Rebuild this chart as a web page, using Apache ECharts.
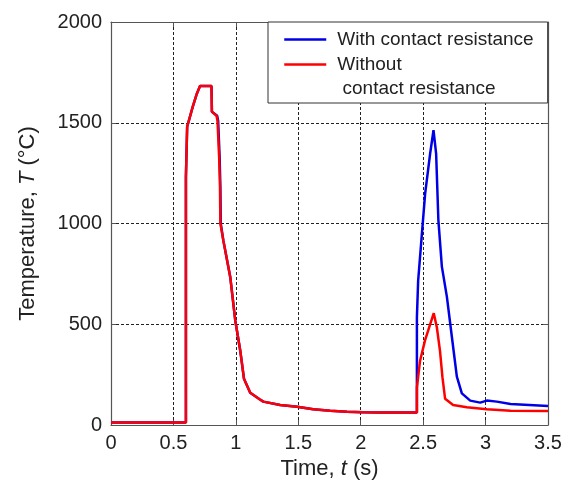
<!DOCTYPE html>
<html>
<head>
<meta charset="utf-8">
<script src="https://cdn.jsdelivr.net/npm/echarts@6/dist/echarts.min.js"></script>
<style>
html,body{margin:0;padding:0;background:#fff;}
#chart{width:565px;height:486px;}
</style>
</head>
<body>
<div id="chart"></div>
<script>
// ---- data ----
var xTicks = [0, 0.5, 1, 1.5, 2, 2.5, 3, 3.5];
var yTicks = [0, 500, 1000, 1500, 2000];

var seriesNames = ['With contact resistance', 'Without contact resistance'];

// Without contact resistance (red)
var redTime = [0, 0.6, 0.6, 0.61, 0.655, 0.685, 0.713, 0.805, 0.808, 0.845, 0.853, 0.866, 0.873, 0.876, 0.9, 0.955, 0.995, 1.035, 1.065, 1.115, 1.19, 1.22, 1.355, 1.49, 1.62, 1.755, 1.89, 2.02, 2.155, 2.45, 2.45, 2.475, 2.515, 2.585, 2.61, 2.635, 2.655, 2.676, 2.74, 2.85, 3.01, 3.2, 3.5];
var redTemp = [12, 12, 1230, 1480, 1580, 1640, 1682, 1682, 1555, 1535, 1510, 1330, 1180, 1000, 915, 735, 520, 370, 230, 160, 128, 116, 99, 91, 78, 71, 66, 63, 62, 62, 186, 318, 420, 555, 484, 368, 235, 130, 99, 88, 78, 71, 70];

// With contact resistance (blue)
var blueTime = [0, 0.6, 0.6, 0.61, 0.655, 0.685, 0.713, 0.805, 0.808, 0.85, 0.858, 0.87, 0.876, 0.879, 0.9, 0.955, 0.995, 1.035, 1.065, 1.115, 1.19, 1.22, 1.355, 1.49, 1.62, 1.755, 1.89, 2.02, 2.155, 2.45, 2.45, 2.46, 2.49, 2.516, 2.556, 2.583, 2.604, 2.622, 2.65, 2.69, 2.73, 2.77, 2.81, 2.877, 2.957, 3.01, 3.09, 3.2, 3.5];
var blueTemp = [12, 12, 1230, 1480, 1580, 1640, 1682, 1682, 1555, 1535, 1510, 1330, 1180, 1000, 915, 735, 520, 370, 230, 160, 128, 116, 99, 91, 78, 71, 66, 63, 62, 62, 534, 716, 949, 1148, 1347, 1463, 1347, 1017, 786, 637, 438, 240, 157, 121, 111, 121, 116, 104, 94];

function pairs(t, v) { return t.map(function (x, i) { return [x, v[i]]; }); }

var FONT = '"Liberation Sans", Arial, "DejaVu Sans", sans-serif';
var TXT = '#222';

var chart = echarts.init(document.getElementById('chart'), null, {renderer: 'canvas'});

var option = {
  backgroundColor: '#fff',
  animation: false,
  grid: {left: 111, right: 17, top: 22, bottom: 61, containLabel: false},
  legend: {
    orient: 'vertical',
    left: 268,
    top: 22,
    padding: [8, 14, 5, 15],
    itemWidth: 42,
    itemHeight: 14,
    itemGap: 6,
    backgroundColor: '#fff',
    borderColor: '#333',
    borderWidth: 1,
    borderRadius: 0,
    itemStyle: {opacity: 0},
    lineStyle: {width: 2.5},
    textStyle: {
      fontFamily: FONT, fontSize: 19, color: TXT, padding: [0, 0, 0, 6],
      rich: {
        a: {fontFamily: FONT, fontSize: 19, color: TXT, lineHeight: 24},
        b: {fontFamily: FONT, fontSize: 19, color: TXT, lineHeight: 24}
      }
    },
    data: [
      {name: seriesNames[0]},
      {name: seriesNames[1], textStyle: {padding: [12, 0, -12, 6]}}
    ],
    formatter: function (name) {
      if (name === seriesNames[1]) { return '{a|Without}\n{b| contact resistance}'; }
      return name;
    }
  },
  xAxis: [{
    type: 'value', position: 'bottom', min: 0, max: 3.5, interval: 0.5,
    name: 'Time, {i|t} (s)', nameLocation: 'middle', nameGap: 32,
    nameTextStyle: {
      fontFamily: FONT, fontSize: 22, color: TXT,
      rich: {i: {fontFamily: FONT, fontSize: 22, color: TXT, fontStyle: 'italic'}}
    },
    axisLine: {show: true, onZero: false, lineStyle: {color: '#555', width: 1.2}},
    axisTick: {show: true, inside: true, length: 5, lineStyle: {color: '#555'}},
    axisLabel: {fontFamily: FONT, fontSize: 20, color: TXT, margin: 8,
      formatter: function (v) { return String(v); }},
    splitLine: {show: true, lineStyle: {color: '#222', width: 1, type: [3, 2]}}
  }, {
    type: 'value', position: 'top', min: 0, max: 3.5, interval: 0.5,
    axisLine: {show: true, onZero: false, lineStyle: {color: '#555', width: 1.2}},
    axisTick: {show: true, inside: true, length: 5, lineStyle: {color: '#555'}},
    axisLabel: {show: false},
    splitLine: {show: false}
  }],
  yAxis: [{
    type: 'value', position: 'left', min: 0, max: 2000, interval: 500,
    name: 'Temperature, {i|T} (°C)', nameLocation: 'middle', nameGap: 72,
    nameTextStyle: {
      fontFamily: FONT, fontSize: 22, color: TXT,
      rich: {i: {fontFamily: FONT, fontSize: 22, color: TXT, fontStyle: 'italic'}}
    },
    axisLine: {show: true, onZero: false, lineStyle: {color: '#555', width: 1.2}},
    axisTick: {show: true, inside: true, length: 5, lineStyle: {color: '#555'}},
    axisLabel: {fontFamily: FONT, fontSize: 20, color: TXT, margin: 9,
      formatter: function (v) { return String(v); }},
    splitLine: {show: true, lineStyle: {color: '#222', width: 1, type: [3, 2]}}
  }, {
    type: 'value', position: 'right', min: 0, max: 2000, interval: 500,
    axisLine: {show: true, onZero: false, lineStyle: {color: '#555', width: 1.2}},
    axisTick: {show: true, inside: true, length: 5, lineStyle: {color: '#555'}},
    axisLabel: {show: false},
    splitLine: {show: false}
  }],
  series: [{
    name: seriesNames[0], type: 'line', xAxisIndex: 0, yAxisIndex: 0,
    data: pairs(blueTime, blueTemp),
    symbol: 'none', smooth: false, z: 2,
    lineStyle: {color: '#0000e6', width: 2.5},
    itemStyle: {color: '#0000e6'}
  }, {
    name: seriesNames[1], type: 'line', xAxisIndex: 0, yAxisIndex: 0,
    data: pairs(redTime, redTemp),
    symbol: 'none', smooth: false, z: 3,
    lineStyle: {color: '#ff0000', width: 2.5},
    itemStyle: {color: '#ff0000'}
  }]
};
chart.setOption(option);
</script>
</body>
</html>
